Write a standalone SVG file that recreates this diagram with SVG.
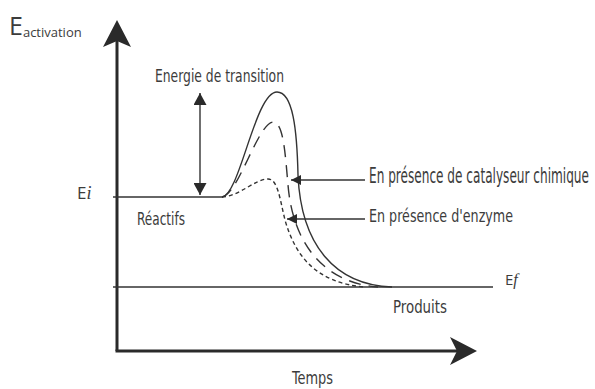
<svg xmlns="http://www.w3.org/2000/svg" width="595" height="389" viewBox="0 0 595 389">
<style>
.lbl{font-family:"Liberation Sans Narrow","DejaVu Sans Condensed","Liberation Sans",sans-serif;font-stretch:condensed;font-size:17px;fill:#3c3c3c}
.sym{font-family:"Open Sans","DejaVu Sans",sans-serif;fill:#3c3c3c}
.ln{fill:none;stroke:#333;stroke-width:1.4}
.ax{fill:none;stroke:#2a2a2a;stroke-width:3}
.hd{fill:#2a2a2a}
</style>
<defs>
<marker id="ah" viewBox="0 0 10 10" refX="10" refY="5" markerWidth="10" markerHeight="10" markerUnits="userSpaceOnUse" orient="auto">
<path d="M0,0 L10,5 L0,10 Z" fill="#2a2a2a"/>
</marker>
<marker id="dh" viewBox="0 0 12 13" refX="12" refY="6.5" markerWidth="12" markerHeight="13" markerUnits="userSpaceOnUse" orient="auto-start-reverse">
<path d="M0,0 L12,6.5 L0,13 Z" fill="#2a2a2a"/>
</marker>
</defs>
<rect width="595" height="389" fill="#fff"/>
<g id="axes">
<line class="ax" x1="117" y1="38" x2="117" y2="351"/>
<line class="ax" x1="115.5" y1="351" x2="460" y2="351"/>
<path class="hd" d="M117,20 L131,47 L117,41 L103,47 Z"/>
<path class="hd" d="M477,351 L450,337 L457,351 L450,365 Z"/>
</g>
<g id="levels">
<line class="ln" x1="113" y1="197" x2="223" y2="197"/>
<line class="ln" x1="113" y1="287" x2="493" y2="287"/>
</g>
<g id="curves">
<path class="ln" d="M222,197 C240,195 255,92 277,92 C293,92 297,130 298,175 C301,245 335,285 392,287"/>
<path class="ln" stroke-dasharray="12 8" d="M222,197 C238,195 258,123 273,122 C283,122 285,150 288,185 C293,245 325,283 378,287"/>
<path class="ln" stroke-dasharray="4 3" d="M222,197 C240,196 255,179 268,179 C278,179 280,200 285,220 C295,255 315,283 365,287"/>
</g>
<g id="connectors">
<line class="ln" x1="365" y1="180" x2="291" y2="180" marker-end="url(#ah)"/>
<line class="ln" x1="365" y1="219" x2="287" y2="219" marker-end="url(#ah)"/>
<line class="ln" x1="200" y1="93" x2="200" y2="195" marker-start="url(#dh)" marker-end="url(#dh)"/>
</g>
<g id="label-eactivation"><text class="sym" x="9" y="35" font-size="25">E<tspan font-size="13" dy="2">activation</tspan></text></g>
<g id="label-transition"><text class="lbl" x="155" y="82" font-size="19" textLength="129" lengthAdjust="spacingAndGlyphs">Energie de transition</text></g>
<g id="label-ei"><text class="sym" x="77" y="199" font-size="17">E<tspan font-style="italic" font-family="Liberation Serif,serif" font-size="18">i</tspan></text></g>
<g id="label-reactifs"><text class="lbl" x="137" y="225" font-size="19" textLength="48" lengthAdjust="spacingAndGlyphs">Réactifs</text></g>
<g id="label-catalyseur"><text class="lbl" transform="translate(369,183) scale(1,1.22)" x="0" y="0" font-size="14" textLength="220" lengthAdjust="spacingAndGlyphs">En présence de catalyseur chimique</text></g>
<g id="label-enzyme"><text class="lbl" x="369" y="222" textLength="144" lengthAdjust="spacingAndGlyphs">En présence d'enzyme</text></g>
<g id="label-ef"><text class="sym" x="505" y="285" font-size="15">E<tspan font-style="italic" font-family="Liberation Serif,serif" font-size="16">f</tspan></text></g>
<g id="label-produits"><text class="lbl" x="393" y="313" font-size="19" textLength="54" lengthAdjust="spacingAndGlyphs">Produits</text></g>
<g id="label-temps"><text class="lbl" x="292" y="384" font-size="19" textLength="41" lengthAdjust="spacingAndGlyphs">Temps</text></g>
</svg>
